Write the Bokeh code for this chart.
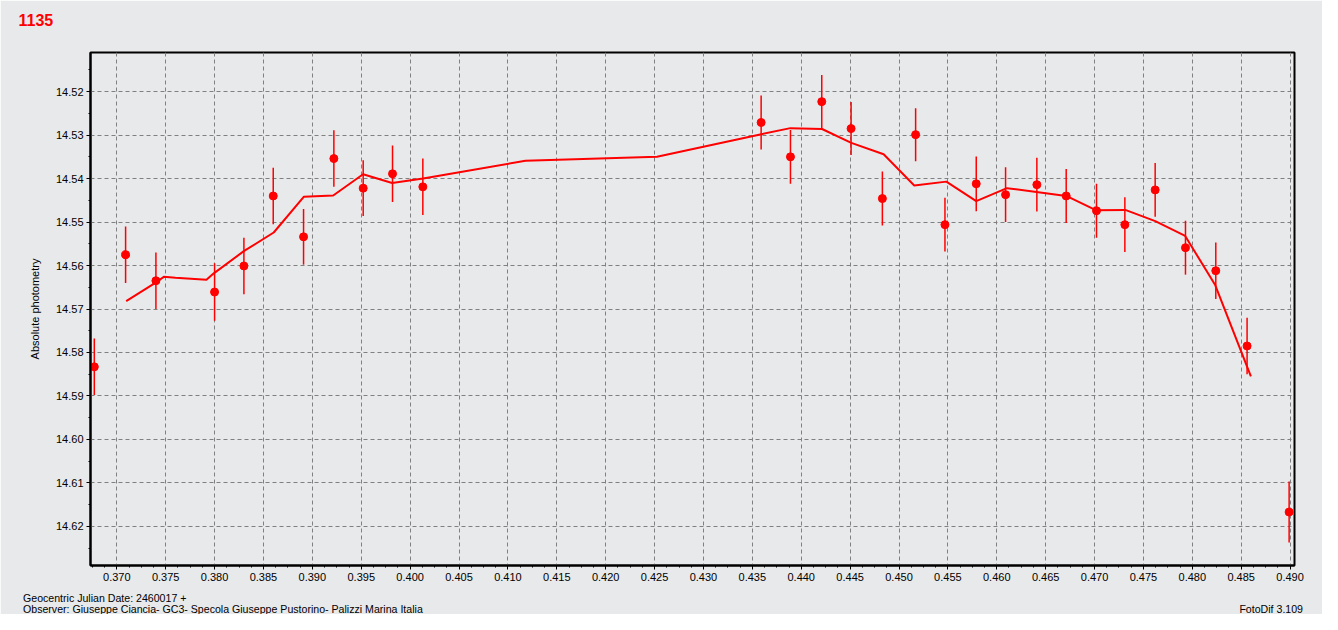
from bokeh.plotting import figure
from bokeh.models import ColumnDataSource, Range1d, FixedTicker, NumeralTickFormatter
from bokeh.core.properties import value
from bokeh.embed import file_html
from bokeh.resources import INLINE

# ---------------- data ----------------
obs_x = [0.3677, 0.3709, 0.3740, 0.3800, 0.3830, 0.3860, 0.3891, 0.3922, 0.3952, 0.3982,
         0.4013, 0.4359, 0.4389, 0.4421, 0.4451, 0.4483, 0.4517, 0.4547, 0.4579, 0.4609,
         0.4641, 0.4671, 0.4702, 0.4731, 0.4762, 0.4793, 0.4824, 0.4856, 0.4899]
obs_y = [14.5833, 14.5575, 14.5635, 14.5661, 14.5601, 14.5440, 14.5534, 14.5354, 14.5422, 14.5389,
         14.5419, 14.5271, 14.5350, 14.5223, 14.5285, 14.5446, 14.5299, 14.5506, 14.5412, 14.5437,
         14.5414, 14.5440, 14.5474, 14.5506, 14.5426, 14.5559, 14.5612, 14.5785, 14.6167]
obs_err = [0.0065, 0.0065, 0.0065, 0.0066, 0.0065, 0.0065, 0.0064, 0.0065, 0.0064, 0.0065,
           0.0065, 0.0062, 0.0062, 0.0061, 0.0061, 0.0062, 0.0061, 0.0062, 0.0063, 0.0063,
           0.0062, 0.0062, 0.0062, 0.0063, 0.0062, 0.0062, 0.0065, 0.0065, 0.0070]

fit_x = [0.37096, 0.37406, 0.37481, 0.37600, 0.37917, 0.37992, 0.38299, 0.38605, 0.38912, 0.39213,
         0.39519, 0.39816, 0.40133, 0.41179, 0.42525, 0.43592, 0.43889, 0.44213, 0.44512, 0.44843,
         0.45156, 0.45484, 0.45790, 0.46104, 0.46406, 0.46711, 0.47018, 0.47314, 0.47621, 0.47927,
         0.48234, 0.48599]
fit_y = [14.5682, 14.5638, 14.5626, 14.5628, 14.5633, 14.5618, 14.5567, 14.5524, 14.5442, 14.5439,
         14.5390, 14.5410, 14.5400, 14.5359, 14.5350, 14.5298, 14.5284, 14.5286, 14.5318, 14.5344,
         14.5416, 14.5407, 14.5452, 14.5422, 14.5431, 14.5440, 14.5473, 14.5472, 14.5498, 14.5532,
         14.5645, 14.5855]

x_ticks = [0.370, 0.375, 0.380, 0.385, 0.390, 0.395, 0.400, 0.405, 0.410, 0.415, 0.420, 0.425, 0.430,
           0.435, 0.440, 0.445, 0.450, 0.455, 0.460, 0.465, 0.470, 0.475, 0.480, 0.485, 0.490]
y_ticks = [14.52, 14.53, 14.54, 14.55, 14.56, 14.57, 14.58, 14.59, 14.60, 14.61, 14.62]

title_text = "1135"
y_label = "Absolute photometry"
footer_1 = "Geocentric Julian Date: 2460017 +"
footer_2 = "Observer: Giuseppe Ciancia- GC3- Specola Giuseppe Pustorino- Palizzi Marina Italia"
footer_3 = "FotoDif 3.109"

# ---------------- layout / styling ----------------
BG = "#e8e9eb"
RED = "#ff0000"
FONT = "Liberation Sans"

W, H = 1322, 614
F_LEFT, F_TOP, F_RIGHT, F_BOT = 90, 52, 1294, 565

X0, X1 = 0.36731, 0.49045
Y_BOT, Y_TOP = 14.629, 14.511

x_minor = [round(0.36625 + i * 0.00125, 5) for i in range(100) if 0.36625 + i * 0.00125 <= 0.4905]
y_minor = [round(14.51 + i * 0.005, 3) for i in range(25) if 14.51 + i * 0.005 <= 14.6295]

p = figure(width=W, height=H, output_backend="svg", toolbar_location=None,
           x_range=Range1d(X0, X1), y_range=Range1d(Y_BOT, Y_TOP),
           min_border_left=F_LEFT, min_border_right=W - F_RIGHT,
           min_border_top=F_TOP, min_border_bottom=H - F_BOT,
           background_fill_color=BG, border_fill_color=BG)
p.outline_line_color = "black"
p.outline_line_width = 2

# pixel-based ranges, used only to place the page texts (title / footers)
p.extra_x_ranges = {"px": Range1d(F_LEFT, F_RIGHT)}
p.extra_y_ranges = {"py": Range1d(F_BOT, F_TOP)}

p.xaxis.ticker = FixedTicker(ticks=x_ticks, minor_ticks=x_minor)
p.yaxis.ticker = FixedTicker(ticks=y_ticks, minor_ticks=y_minor)
p.xaxis.formatter = NumeralTickFormatter(format="0.000")
p.yaxis.formatter = NumeralTickFormatter(format="0.00")

for ax in (p.xaxis[0], p.yaxis[0]):
    ax.axis_line_color = "black"
    ax.axis_line_width = 2
    ax.major_tick_line_color = "black"
    ax.minor_tick_line_color = "black"
    ax.major_tick_out = 4
    ax.major_tick_in = 0
    ax.minor_tick_out = 2
    ax.minor_tick_in = 0
    ax.major_label_text_font = FONT
    ax.major_label_text_font_size = "11px"
    ax.major_label_text_color = "black"
    ax.major_label_standoff = 3

p.yaxis.axis_label = y_label
p.yaxis.axis_label_text_font = FONT
p.yaxis.axis_label_text_font_size = "11px"
p.yaxis.axis_label_text_font_style = "normal"
p.yaxis.axis_label_text_color = "black"
p.yaxis.axis_label_standoff = 12

for g in (p.xgrid[0], p.ygrid[0]):
    g.grid_line_color = "#808080"
    g.grid_line_dash = "4 3"
    g.grid_line_width = 1

src = ColumnDataSource(dict(
    x=obs_x, y=obs_y,
    lo=[v - e for v, e in zip(obs_y, obs_err)],
    hi=[v + e for v, e in zip(obs_y, obs_err)],
))

p.line(fit_x, fit_y, line_color=RED, line_width=2)
p.segment(x0="x", y0="lo", x1="x", y1="hi", source=src, line_color=RED, line_width=1.5)
p.scatter("x", "y", source=src, size=8, fill_color=RED, line_color=RED)

# texts outside the frame: drawn at overlay level so they are not clipped to the frame
common = dict(x_range_name="px", y_range_name="py", level="overlay",
              text_font=value(FONT), text_baseline="middle")
p.text(x=[18], y=[19.5], text=[title_text], text_color=RED, text_font_size="16px",
       text_font_style="bold", text_align="left", **common)
p.text(x=[22.5, 22.5], y=[597.5, 608.5], text=[footer_1, footer_2], text_color="black",
       text_font_size="10.6px", text_align="left", **common)
p.text(x=[1302.5], y=[608.5], text=[footer_3], text_color="black",
       text_font_size="10.6px", text_align="right", **common)

open("out.html", "w").write(file_html(p, INLINE))
